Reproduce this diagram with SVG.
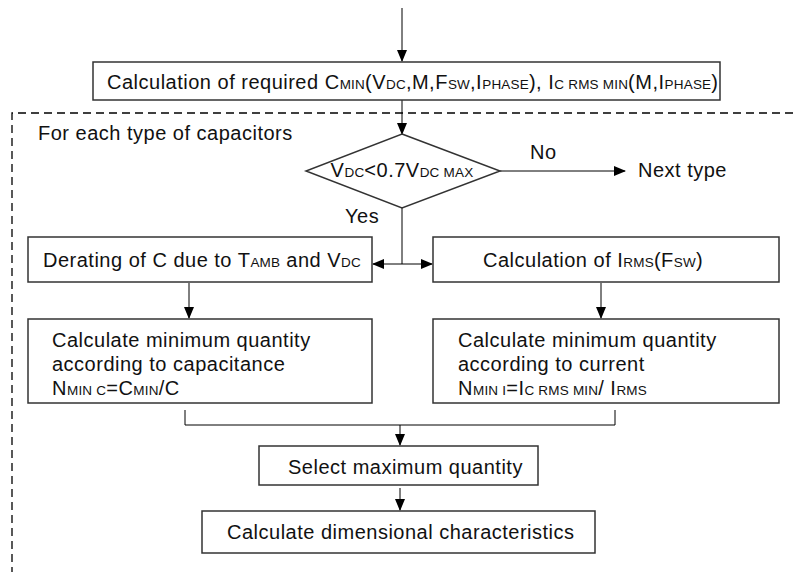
<svg xmlns="http://www.w3.org/2000/svg" width="793" height="572" viewBox="0 0 793 572">
  <defs>
    <marker id="arrow" markerWidth="12" markerHeight="10" refX="11" refY="5" orient="auto" markerUnits="userSpaceOnUse">
      <path d="M0,0 L12,5 L0,10 Z" fill="#000"/>
    </marker>
    <style>
      .box { fill: #fff; stroke: #333; stroke-width: 1.5; }
      .line { fill: none; stroke: #000; stroke-width: 1; }
      .dash { fill: none; stroke: #000; stroke-width: 1.3; stroke-dasharray: 8 5; }
      text { font-family: "Liberation Sans", Arial, sans-serif; font-size: 20px; letter-spacing: 0.5px; fill: #111; }
      .s { font-size: 13.5px; letter-spacing: 0.2px; }
    </style>
  </defs>
  <rect width="793" height="572" fill="#fff"/>

  <!-- loop frame -->
  <path class="dash" d="M793,113 H12 V572"/>

  <g id="connectors">
    <line class="line" x1="402" y1="8" x2="402" y2="61" marker-end="url(#arrow)"/>
    <line class="line" x1="402" y1="100" x2="402" y2="134" marker-end="url(#arrow)"/>
    <line class="line" x1="500" y1="171" x2="625" y2="171" marker-end="url(#arrow)"/>
    <line class="line" x1="402" y1="208" x2="402" y2="264"/>
    <line class="line" x1="402" y1="264" x2="373" y2="264" marker-end="url(#arrow)"/>
    <line class="line" x1="402" y1="264" x2="432" y2="264" marker-end="url(#arrow)"/>
    <line class="line" x1="189" y1="283" x2="189" y2="318" marker-end="url(#arrow)"/>
    <line class="line" x1="601" y1="283" x2="601" y2="318" marker-end="url(#arrow)"/>
    <path class="line" d="M185,410 V425 H615 V410"/>
    <line class="line" x1="400" y1="425" x2="400" y2="445" marker-end="url(#arrow)"/>
    <line class="line" x1="400" y1="488" x2="400" y2="510" marker-end="url(#arrow)"/>
    <text x="530" y="159">No</text>
    <text x="345" y="223">Yes</text>
  </g>

  <g id="calc-required">
    <rect class="box" x="93" y="62" width="627" height="38"/>
    <text x="107" y="89">Calculation of required C<tspan class="s">MIN</tspan>(V<tspan class="s">DC</tspan>,M,F<tspan class="s">SW</tspan>,I<tspan class="s">PHASE</tspan>), I<tspan class="s">C RMS MIN</tspan>(M,I<tspan class="s">PHASE</tspan>)</text>
  </g>

  <g id="loop-label">
    <text x="38" y="140">For each type of capacitors</text>
  </g>

  <g id="voltage-check">
    <polygon class="box" points="402,134 500,171 402,208 306,171"/>
    <text x="402" y="177" text-anchor="middle">V<tspan class="s">DC</tspan>&lt;0.7V<tspan class="s">DC MAX</tspan></text>
  </g>

  <g id="next-type">
    <text x="638" y="177">Next type</text>
  </g>

  <g id="derating">
    <rect class="box" x="28" y="237" width="344" height="45"/>
    <text x="43" y="267">Derating of C due to T<tspan class="s">AMB</tspan> and V<tspan class="s">DC</tspan></text>
  </g>

  <g id="calc-irms">
    <rect class="box" x="433" y="237" width="346" height="45"/>
    <text x="483" y="267">Calculation of I<tspan class="s">RMS</tspan>(F<tspan class="s">SW</tspan>)</text>
  </g>

  <g id="qty-capacitance">
    <rect class="box" x="28" y="319" width="344" height="84"/>
    <text x="52" y="347">Calculate minimum quantity</text>
    <text x="52" y="371">according to capacitance</text>
    <text x="52" y="395">N<tspan class="s">MIN C</tspan>=C<tspan class="s">MIN</tspan>/C</text>
  </g>

  <g id="qty-current">
    <rect class="box" x="433" y="319" width="346" height="84"/>
    <text x="458" y="347">Calculate minimum quantity</text>
    <text x="458" y="371">according to current</text>
    <text x="458" y="395">N<tspan class="s">MIN I</tspan>=I<tspan class="s">C RMS MIN</tspan>/ I<tspan class="s">RMS</tspan></text>
  </g>

  <g id="select-max">
    <rect class="box" x="259" y="446" width="279" height="39"/>
    <text x="288" y="474">Select maximum quantity</text>
  </g>

  <g id="dimensional">
    <rect class="box" x="202" y="511" width="393" height="42"/>
    <text x="227" y="539">Calculate dimensional characteristics</text>
  </g>
</svg>
